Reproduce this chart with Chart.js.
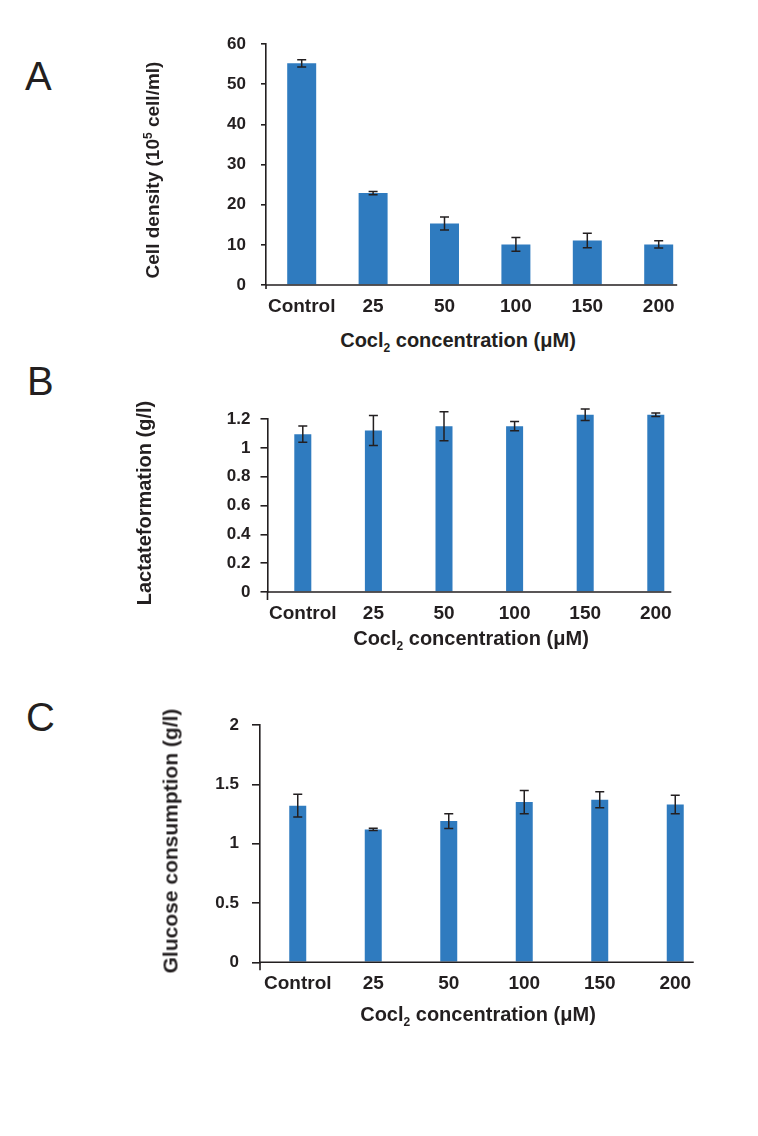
<!DOCTYPE html>
<html>
<head>
<meta charset="utf-8">
<script src="https://cdn.jsdelivr.net/npm/chart.js@4.4.1/dist/chart.umd.min.js"></script>
<style>
  body { margin: 0; background: #fff; }
  #wrap { position: relative; width: 758px; height: 1136px; overflow: hidden; font-family: "Liberation Sans", Arial, sans-serif; color: #231f20; }
  canvas { position: absolute; left: 0; }
  .letter { position: absolute; font-size: 40px; line-height: 40px; font-weight: normal; }
  .xt, .yt { position: absolute; font-size: 20px; font-weight: bold; white-space: nowrap; line-height: 1; }
  .xt { transform: translate(-50%, -50%); }
  .yt { transform: translate(-50%, -50%) rotate(-90deg); }
  sub { font-size: 12px; vertical-align: -5px; line-height: 0; }
  sup { font-size: 12px; vertical-align: 7px; line-height: 0; }
</style>
</head>
<body>
<div id="wrap">
  <div class="letter" style="left:25px;top:56px">A</div>
  <div class="letter" style="left:27px;top:361px">B</div>
  <div class="letter" style="left:26px;top:697px">C</div>

  <canvas id="chartA" width="758" height="320" style="top:0px"></canvas>
  <canvas id="chartB" width="758" height="290" style="top:360px"></canvas>
  <canvas id="chartC" width="758" height="330" style="top:690px"></canvas>

  <div class="yt" style="left:152px;top:170px;font-size:19px">Cell density (10<sup>5</sup> cell/ml)</div>
  <div class="xt" style="left:458px;top:340px">Cocl<sub>2</sub> concentration (μM)</div>
  <div class="yt" style="left:144px;top:503px">Lactateformation (g/l)</div>
  <div class="xt" style="left:471px;top:638px">Cocl<sub>2</sub> concentration (μM)</div>
  <div class="yt" style="left:170px;top:841px;font-size:21px">Glucose consumption (g/l)</div>
  <div class="xt" style="left:478px;top:1014px">Cocl<sub>2</sub> concentration (μM)</div>
</div>
<script>
const categories = ['Control', '25', '50', '100', '150', '200'];

const cellDensity = [55.2, 22.9, 15.3, 10.1, 11.1, 10.1];
const cellDensityErr = [0.9, 0.4, 1.6, 1.7, 1.8, 0.9];
const densityTicks = [0, 10, 20, 30, 40, 50, 60];

const lactate = [1.095, 1.12, 1.15, 1.15, 1.23, 1.23];
const lactateErr = [0.056, 0.104, 0.1, 0.032, 0.04, 0.012];
const lactateTicks = [0, 0.2, 0.4, 0.6, 0.8, 1, 1.2];

const glucose = [1.32, 1.12, 1.19, 1.35, 1.37, 1.33];
const glucoseErr = [0.096, 0.01, 0.062, 0.098, 0.068, 0.078];
const glucoseTicks = [0, 0.5, 1, 1.5, 2];

const INK = '#231f20';
const BLUE = '#2f7bbf';
const FONT = '"Liberation Sans", Arial, sans-serif';

// error bars + x axis line drawn after the bars
const errorBars = {
  id: 'errorBars',
  afterDatasetsDraw(chart, args, opts) {
    const ctx = chart.ctx;
    const y = chart.scales.y;
    const area = chart.chartArea;
    const meta = chart.getDatasetMeta(0);
    const ds = chart.data.datasets[0];
    ctx.save();
    ctx.strokeStyle = INK;
    ctx.lineWidth = 1.5;
    meta.data.forEach((bar, i) => {
      const v = ds.data[i], e = ds.errors[i];
      const top = y.getPixelForValue(v + e);
      const bot = y.getPixelForValue(v - e);
      ctx.beginPath();
      ctx.moveTo(bar.x, top); ctx.lineTo(bar.x, bot);
      ctx.moveTo(bar.x - 4.5, top); ctx.lineTo(bar.x + 4.5, top);
      ctx.moveTo(bar.x - 4.5, bot); ctx.lineTo(bar.x + 4.5, bot);
      ctx.stroke();
    });
    // x axis line and y axis stub below it
    const last = meta.data[meta.data.length - 1];
    ctx.lineWidth = 1.6;
    ctx.beginPath();
    ctx.moveTo(area.left, area.bottom);
    ctx.lineTo(last.x + last.width / 2 + opts.xExtra, area.bottom);
    ctx.moveTo(area.left, area.bottom);
    ctx.lineTo(area.left, area.bottom + opts.yBelow);
    ctx.stroke();
    ctx.restore();
  }
};

function makeChart(id, values, errs, ticks, cfg) {
  return new Chart(document.getElementById(id), {
    type: 'bar',
    data: {
      labels: categories,
      datasets: [{
        data: values,
        errors: errs,
        backgroundColor: BLUE,
        borderWidth: 0,
        barPercentage: cfg.barPct,
        categoryPercentage: 1,
        clip: false
      }]
    },
    options: {
      responsive: false,
      animation: false,
      devicePixelRatio: 1,
      layout: { padding: { top: cfg.top, right: cfg.right, left: 0, bottom: 0 } },
      plugins: {
        legend: { display: false },
        tooltip: { enabled: false },
        errorBars: { xExtra: cfg.xExtra, yBelow: cfg.yBelow }
      },
      scales: {
        x: {
          grid: { display: false, drawTicks: false },
          border: { display: false },
          ticks: { color: INK, font: { family: FONT, size: 19, weight: 'bold' }, padding: 10, maxRotation: 0 },
          afterFit: s => { s.height = cfg.xHeight; }
        },
        y: {
          min: ticks[0],
          max: ticks[ticks.length - 1],
          afterBuildTicks: s => { s.ticks = ticks.map(v => ({ value: v })); },
          grid: { drawOnChartArea: false, drawTicks: true, tickLength: cfg.tickLen, color: INK, lineWidth: 1.6 },
          border: { display: true, color: INK, width: 1.6 },
          ticks: {
            color: INK,
            font: { family: FONT, size: 17, weight: 'bold' },
            padding: cfg.tickPad,
            callback: v => String(v)
          },
          afterFit: s => { s.width = cfg.left; }
        }
      }
    },
    plugins: [errorBars]
  });
}

makeChart('chartA', cellDensity, cellDensityErr, densityTicks,
  { barPct: 0.406, top: 44, right: 63.6, left: 266, xHeight: 35, tickLen: 5, tickPad: 15, xExtra: 4, yBelow: 4 });
makeChart('chartB', lactate, lactateErr, lactateTicks,
  { barPct: 0.241, top: 59, right: 66.9, left: 267.5, xHeight: 58, tickLen: 7, tickPad: 10, xExtra: 7, yBelow: 8 });
makeChart('chartC', glucose, glucoseErr, glucoseTicks,
  { barPct: 0.225, top: 35, right: 45, left: 260, xHeight: 57.7, tickLen: 8, tickPad: 13, xExtra: 10, yBelow: 8 });
</script>
</body>
</html>
